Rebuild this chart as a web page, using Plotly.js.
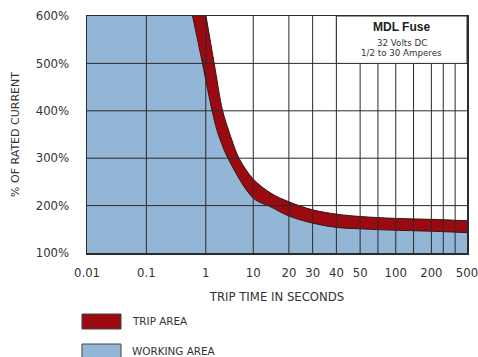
<!DOCTYPE html>
<html><head><meta charset="utf-8">
<script src="https://cdn.plot.ly/plotly-3.0.1.min.js"></script>
<style>html,body{margin:0;padding:0;background:#fff}#chart{width:478px;height:357px}</style>
</head><body><div id="chart"></div>
<script>
// ---- data ----
const tickSeconds = [0.01, 0.1, 1, 10, 20, 30, 40, 50, 100, 200, 500];
const tickLabels  = ["0.01", "0.1", "1", "10", "20", "30", "40", "50", "100", "200", "500"];
const minorGridSeconds = [75, 150, 300, 400];
const yTickValues = [100, 200, 300, 400, 500, 600];
const yTickLabels = ["100%", "200%", "300%", "400%", "500%", "600%"];

// trip band: upper edge (maximum) and lower edge (minimum)
const upperSeconds = [1.05, 2.6, 4.2, 5.3, 5.9, 7.3, 10, 15, 20, 30, 40, 50, 100, 200, 500];
const upperPercent = [600, 500, 400, 360, 340, 300, 256, 226, 208, 191, 182, 177, 173, 171, 168];
const lowerSeconds = [0.8, 0.95, 2.2, 3.1, 3.7, 5.2, 10, 15, 20, 30, 40, 50, 100, 200, 500];
const lowerPercent = [600, 500, 400, 360, 340, 300, 216, 197, 178, 163, 154, 151, 148, 146, 143];

const legendLabels = ["TRIP AREA", "WORKING AREA"];
const boxTitle = "MDL Fuse";
const boxLines = ["32 Volts DC", "1/2 to 30 Amperes"];

// ---- the chart's own (hand-drawn, non-log) time scale ----
const tickUnits = [0, 5, 10, 14, 17, 19, 21, 23, 26, 29, 32];
function toUnit(t) {
  for (let i = 0; i < tickSeconds.length - 1; i++) {
    const a = tickSeconds[i], b = tickSeconds[i + 1];
    if (t <= b || i === tickSeconds.length - 2) {
      const u = tickUnits[i] + (t - a) / (b - a) * (tickUnits[i + 1] - tickUnits[i]);
      return Math.round(u * 1e6) / 1e6;
    }
  }
}

const RED = '#9b0a10', BLUE = '#93b5d6', EDGE = '#3a1616', GRID = '#2b2b2b', TXT = '#333';
const FONT = 'DejaVu Sans';
const xMin = toUnit(tickSeconds[0]), xMax = toUnit(tickSeconds[tickSeconds.length - 1]);
const yMin = yTickValues[0], yMax = yTickValues[yTickValues.length - 1];

const traces = [
  { // boundary along top of chart (for the white region)
    x: [xMin, xMax], y: [yMax, yMax], mode: 'lines', line: {width: 0}, hoverinfo: 'skip', showlegend: false
  },
  { // upper edge of trip band; white above it
    x: upperSeconds.map(toUnit), y: upperPercent, mode: 'lines',
    line: {color: EDGE, width: 1, shape: 'spline'}, fill: 'tonexty', fillcolor: '#ffffff', showlegend: false
  },
  { // lower edge of trip band; red between
    x: lowerSeconds.map(toUnit), y: lowerPercent, mode: 'lines',
    line: {color: EDGE, width: 1, shape: 'spline'}, fill: 'tonexty', fillcolor: RED, showlegend: false
  }
];

const shapes = [];
tickSeconds.concat(minorGridSeconds).forEach(t => {
  const u = toUnit(t);
  if (u > xMin && u < xMax) shapes.push({type: 'line', xref: 'x', yref: 'y', x0: u, x1: u, y0: yMin, y1: yMax, layer: 'above', line: {color: GRID, width: 1}});
});
yTickValues.forEach(v => {
  if (v > yMin && v < yMax) shapes.push({type: 'line', xref: 'x', yref: 'y', x0: xMin, x1: xMax, y0: v, y1: v, layer: 'above', line: {color: GRID, width: 1}});
});
// info box
shapes.push({type: 'rect', xref: 'x', yref: 'y', x0: toUnit(40), x1: xMax, y0: 500, y1: yMax, layer: 'above', fillcolor: '#ffffff', line: {color: GRID, width: 1}});
// legend swatches
shapes.push({type: 'rect', xref: 'paper', yref: 'paper', x0: -0.0132, x1: 0.0895, y0: -0.3207, y1: -0.2574, fillcolor: RED, line: {color: '#444', width: 1}});
shapes.push({type: 'rect', xref: 'paper', yref: 'paper', x0: -0.0132, x1: 0.0895, y0: -0.4473, y1: -0.384, fillcolor: BLUE, line: {color: '#444', width: 1}});

const boxX = (toUnit(40) + xMax) / 2;
const annotations = [
  {x: boxX, y: 577, xref: 'x', yref: 'y', text: '<b>' + boxTitle + '</b>', showarrow: false, font: {family: 'Liberation Sans', size: 12, color: '#222'}},
  {x: boxX, y: 543, xref: 'x', yref: 'y', text: boxLines[0], showarrow: false, font: {family: FONT, size: 8.7, color: TXT}},
  {x: boxX, y: 522, xref: 'x', yref: 'y', text: boxLines[1], showarrow: false, font: {family: FONT, size: 8.7, color: TXT}},
  {x: 0.1132, y: -0.289, xref: 'paper', yref: 'paper', xanchor: 'left', yanchor: 'middle', text: legendLabels[0], showarrow: false, font: {family: FONT, size: 10.4, color: TXT}},
  {x: 0.1132, y: -0.4114, xref: 'paper', yref: 'paper', xanchor: 'left', yanchor: 'middle', text: legendLabels[1], showarrow: false, font: {family: FONT, size: 10.4, color: TXT}}
];

const layout = {
  width: 478, height: 357,
  margin: {l: 87, r: 11, t: 16, b: 104},
  paper_bgcolor: '#ffffff', plot_bgcolor: BLUE,
  showlegend: false,
  font: {family: FONT, color: TXT},
  xaxis: {
    type: 'linear', range: [xMin, xMax], showgrid: false, zeroline: false,
    tickvals: tickSeconds.map(toUnit), ticktext: tickLabels, ticks: '',
    ticklabelstandoff: 8, ticklabeloverflow: 'allow', tickfont: {family: FONT, size: 11.7, color: TXT},
    showline: true, mirror: true, linecolor: GRID, linewidth: 1.5,
    title: {text: 'TRIP TIME IN SECONDS', font: {family: FONT, size: 11.7, color: TXT}, standoff: 14}
  },
  yaxis: {
    range: [yMin, yMax], showgrid: false, zeroline: false,
    tickvals: yTickValues, ticktext: yTickLabels, ticks: '',
    ticklabelstandoff: 14, tickfont: {family: FONT, size: 11.7, color: TXT},
    showline: true, mirror: true, linecolor: GRID, linewidth: 1.5,
    title: {text: '% OF RATED CURRENT', font: {family: FONT, size: 11, color: TXT}, standoff: 14}
  },
  shapes: shapes,
  annotations: annotations
};

Plotly.newPlot('chart', traces, layout, {staticPlot: true, displayModeBar: false});
</script>
</body></html>
